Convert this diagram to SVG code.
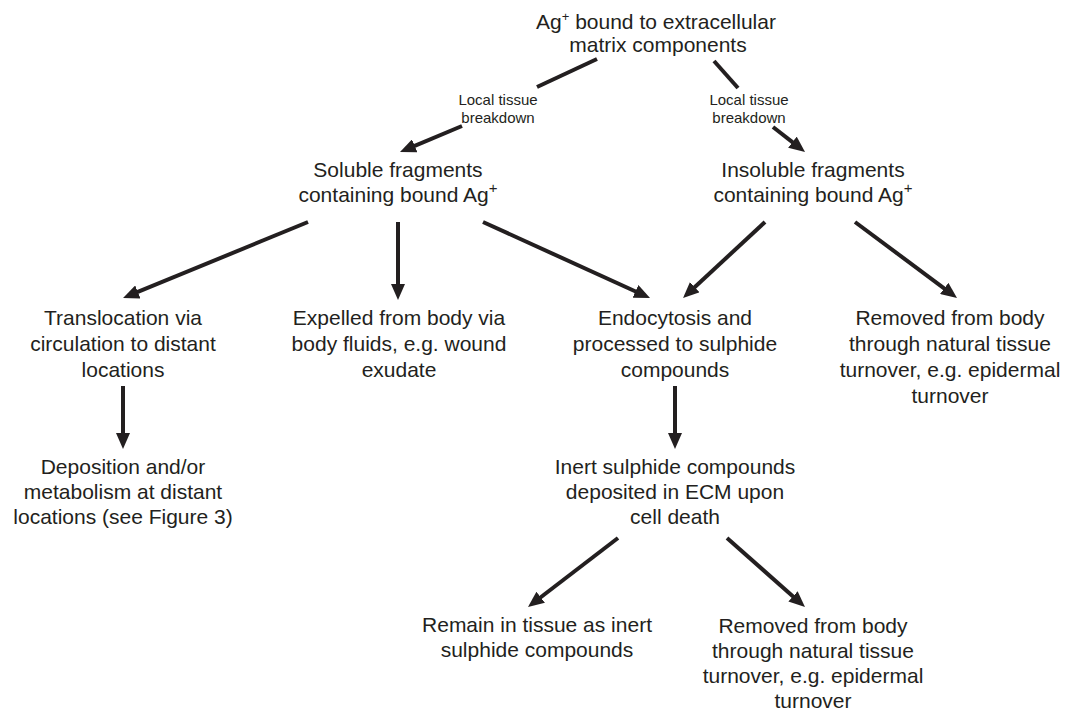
<svg xmlns="http://www.w3.org/2000/svg" width="1065" height="710" viewBox="0 0 1065 710">
<defs>
<marker id="ah" markerUnits="userSpaceOnUse" markerWidth="16" markerHeight="14" viewBox="0 0 16 14" refX="2" refY="7" orient="auto">
<path d="M0,0 L16,7 L0,14 z" fill="#231f20"/>
</marker>
<style>
text{font-family:"Liberation Sans",Arial,sans-serif;fill:#231f20;text-anchor:middle}
.t{font-size:21px}
.s{font-size:15px}
.c line{stroke:#231f20;stroke-width:4}
.c line.a{marker-end:url(#ah)}
</style>
</defs>
<rect width="1065" height="710" fill="#fff"/>
<g id="connectors" class="c">
<line x1="597" y1="59" x2="537" y2="87"/>
<line class="a" x1="462" y1="126" x2="412.9" y2="146.6"/>
<line x1="714" y1="61" x2="738" y2="88"/>
<line class="a" x1="773" y1="127" x2="794" y2="143.4"/>
<line class="a" x1="308" y1="222" x2="136" y2="292.7"/>
<line class="a" x1="398" y1="222" x2="398" y2="286"/>
<line class="a" x1="483" y1="222" x2="637.3" y2="292.2"/>
<line class="a" x1="765" y1="222" x2="693.3" y2="288.5"/>
<line class="a" x1="855" y1="222" x2="945.8" y2="289.6"/>
<line class="a" x1="123" y1="386" x2="123" y2="435"/>
<line class="a" x1="675" y1="386" x2="675" y2="435"/>
<line class="a" x1="618" y1="538" x2="539.1" y2="598.5"/>
<line class="a" x1="727" y1="538" x2="794.5" y2="597.7"/>
<text class="s" x="498" y="105">Local tissue</text>
<text class="s" x="498" y="123">breakdown</text>
<text class="s" x="749" y="105">Local tissue</text>
<text class="s" x="749" y="123">breakdown</text>
</g>
<g id="n-top">
<text class="t" x="656" y="29">Ag<tspan font-size="13" dy="-8">+</tspan><tspan dy="8"> bound to extracellular</tspan></text>
<text class="t" x="658" y="52">matrix components</text>
</g>
<g id="n-soluble">
<text class="t" x="398" y="177">Soluble fragments</text>
<text class="t" x="398" y="202">containing bound Ag<tspan font-size="15" dy="-9">+</tspan></text>
</g>
<g id="n-insoluble">
<text class="t" x="813" y="177">Insoluble fragments</text>
<text class="t" x="813" y="202">containing bound Ag<tspan font-size="15" dy="-9">+</tspan></text>
</g>
<g id="n-translocation">
<text class="t" x="123" y="325">Translocation via</text>
<text class="t" x="123" y="351">circulation to distant</text>
<text class="t" x="123" y="377">locations</text>
</g>
<g id="n-expelled">
<text class="t" x="399" y="325">Expelled from body via</text>
<text class="t" x="399" y="351">body fluids, e.g. wound</text>
<text class="t" x="399" y="377">exudate</text>
</g>
<g id="n-endocytosis">
<text class="t" x="675" y="325">Endocytosis and</text>
<text class="t" x="675" y="351">processed to sulphide</text>
<text class="t" x="675" y="377">compounds</text>
</g>
<g id="n-removed1">
<text class="t" x="950" y="325">Removed from body</text>
<text class="t" x="950" y="351">through natural tissue</text>
<text class="t" x="950" y="377">turnover, e.g. epidermal</text>
<text class="t" x="950" y="403">turnover</text>
</g>
<g id="n-deposition">
<text class="t" x="123" y="474">Deposition and/or</text>
<text class="t" x="123" y="499">metabolism at distant</text>
<text class="t" x="123" y="524">locations (see Figure 3)</text>
</g>
<g id="n-inert">
<text class="t" x="675" y="474">Inert sulphide compounds</text>
<text class="t" x="675" y="499">deposited in ECM upon</text>
<text class="t" x="675" y="524">cell death</text>
</g>
<g id="n-remain">
<text class="t" x="537" y="632">Remain in tissue as inert</text>
<text class="t" x="537" y="657">sulphide compounds</text>
</g>
<g id="n-removed2">
<text class="t" x="813" y="633">Removed from body</text>
<text class="t" x="813" y="658">through natural tissue</text>
<text class="t" x="813" y="683">turnover, e.g. epidermal</text>
<text class="t" x="813" y="708">turnover</text>
</g>
</svg>
